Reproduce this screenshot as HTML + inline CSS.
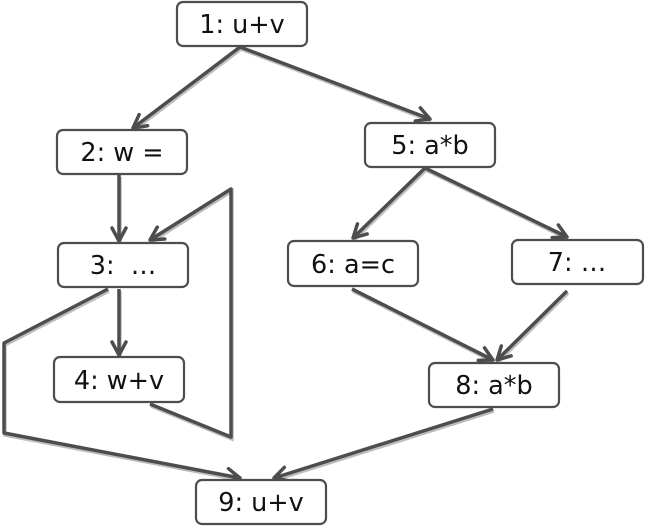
<!DOCTYPE html>
<html><head><meta charset="utf-8"><style>
html,body{margin:0;padding:0;background:#fff;}
svg{display:block;}
text{font-family:"DejaVu Sans","Liberation Sans",sans-serif;font-size:25.5px;fill:#111;text-anchor:middle;}
</style></head><body>
<svg width="645" height="527" viewBox="0 0 645 527" xmlns="http://www.w3.org/2000/svg">
<defs>
<marker id="a" viewBox="0 0 18 18" refX="15" refY="9" markerWidth="18" markerHeight="18" markerUnits="userSpaceOnUse" orient="auto">
<path d="M2,2 L15,9 L2,16" fill="none" stroke="#4d4d4d" stroke-width="3.5" stroke-linecap="round" stroke-linejoin="round"/>
</marker>
</defs>
<g fill="none" stroke="#bdbdbd" stroke-width="3.5" transform="translate(1,2)">
<path d="M240,47 L133,128"/><path d="M240,47 L430,119"/>
<path d="M119,175 L119,241"/><path d="M119,289 L119,355"/>
<path d="M150,404 L231,437 L231,189 L150,240"/>
<path d="M108,289 L4,343 L4,433 L240,478"/>
<path d="M425,168 L353,238"/><path d="M425,168 L567,237"/>
<path d="M352,289 L493,360"/><path d="M567,291 L497,360"/>
<path d="M493,409 L274,478"/>
</g>
<g fill="none" stroke="#4d4d4d" stroke-width="3.5" stroke-linejoin="round" marker-end="url(#a)">
<path d="M240,47 L133,128"/><path d="M240,47 L430,119"/>
<path d="M119,175 L119,241"/><path d="M119,289 L119,355"/>
<path d="M150,404 L231,437 L231,189 L150,240"/>
<path d="M108,289 L4,343 L4,433 L240,478"/>
<path d="M425,168 L353,238"/><path d="M425,168 L567,237"/>
<path d="M352,289 L493,360"/><path d="M567,291 L497,360"/>
<path d="M493,409 L274,478"/>
</g>
<g fill="#fff" stroke="#4d4d4d" stroke-width="2.2">
<rect x="177" y="2" width="130" height="44" rx="6"/>
<rect x="57" y="130" width="130" height="44" rx="6"/>
<rect x="58" y="243" width="130" height="44" rx="6"/>
<rect x="54" y="357" width="130" height="45" rx="6"/>
<rect x="196" y="480" width="130" height="44" rx="6"/>
<rect x="365" y="123" width="130" height="44" rx="6"/>
<rect x="288" y="241" width="130" height="45" rx="6"/>
<rect x="512" y="240" width="131" height="44" rx="6"/>
<rect x="429" y="363" width="130" height="44" rx="6"/>
</g>
<text x="242" y="33">1: u+v</text>
<text x="122" y="161">2: w =</text>
<text x="123" y="274" xml:space="preserve">3:  …</text>
<text x="119" y="389">4: w+v</text>
<text x="261" y="511">9: u+v</text>
<text x="430" y="154">5: a*b</text>
<text x="353" y="273">6: a=c</text>
<text x="577" y="271">7: …</text>
<text x="494" y="394">8: a*b</text>
</svg>
</body></html>
